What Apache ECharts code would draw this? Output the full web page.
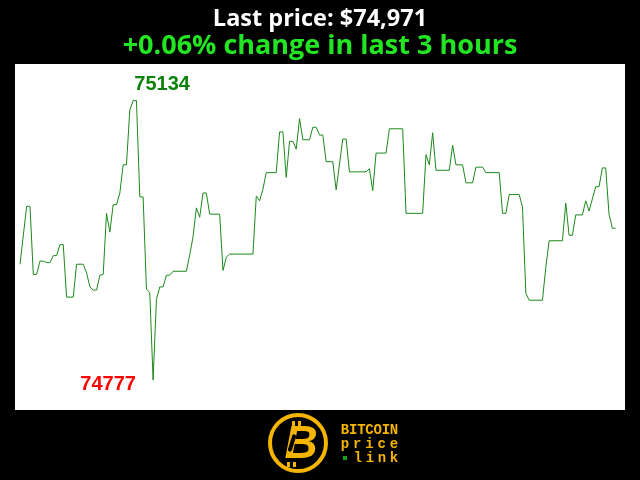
<!DOCTYPE html>
<html><head><meta charset="utf-8">
<script src="https://cdn.jsdelivr.net/npm/echarts@6/dist/echarts.min.js"></script>
<style>html,body{margin:0;padding:0;background:#000}#c{width:640px;height:480px}</style>
</head><body><div id="c"></div>
<script>
// minute offset within the last 3 hours (breakpoints of the line)
const minutes = [0,2,3,4,5,6,7,8,9,10,11,12,13,14,16,17,19,20,21,22,23,24,25,26,27,28,29,30,31,32,33,34,35,36,37,38,39,40,41,42,43,44,45,46,50,51,52,53,54,55,56,57,60,61,62,63,70,71,72,73,74,77,78,79,80,81,82,83,84,85,87,88,89,90,91,92,94,95,97,98,99,104,105,106,107,110,111,115,116,121,122,123,124,125,129,130,131,133,134,136,137,139,140,144,145,146,147,150,151,152,153,157,158,159,163,164,165,166,167,169,170,171,173,174,175,176,177,178,179];
const prices = [74925,74999,74999,74912,74912,74929,74929,74927,74927,74936,74936,74950,74950,74883,74883,74925,74925,74914,74896,74892,74892,74911,74912,74990,74966,75001,75001,75016,75052,75052,75122,75134,75134,75011,75011,74893,74889,74777,74880,74896,74896,74911,74911,74916,74916,74937,74960,74997,74985,75016,75016,74989,74989,74917,74934,74938,74938,75012,75006,75021,75042,75042,75094,75094,75036,75082,75082,75072,75111,75084,75084,75100,75100,75090,75090,75056,75056,75020,75085,75085,75043,75043,75047,75019,75067,75067,75098,75098,74990,74990,75065,75052,75093,75045,75045,75077,75052,75052,75029,75029,75049,75049,75042,75042,74990,74990,75014,75014,74998,74888,74879,74879,74921,74955,74955,75003,74962,74962,74988,74988,75006,74993,75024,75024,75048,75048,74989,74971,74971];
const titleText = 'Last price: $74,971';
const subText = '+0.06% change in last 3 hours';
const logoLines = ['BITCOIN', 'price', 'link'];

const series = minutes.map((m, i) => [m, prices[i]]);
const hi = Math.max(...prices), lo = Math.min(...prices), rng = hi - lo;
const gold = '#f4b400';

function spacedText(str, x0, x1, y, size) {
  const n = str.length;
  const step = n > 1 ? (x1 - x0) / (n - 1) : 0;
  return str.split('').map((ch, i) => ({
    type: 'text', x: x0 + i * step, y: y,
    style: { text: ch, fill: gold, font: 'bold ' + size + 'px "Liberation Mono", "DejaVu Sans Mono", monospace', textAlign: 'center', textVerticalAlign: 'middle' }
  }));
}

const chart = echarts.init(document.getElementById('c'), null, { renderer: 'canvas' });
chart.setOption({
  backgroundColor: '#000',
  animation: false,
  title: [
    { text: titleText, left: 'center', top: 2, textStyle: { color: '#ffffff', fontSize: 23.5, fontWeight: 'bold', fontFamily: '"Open Sans", sans-serif' } },
    { text: subText, left: 'center', top: 28, textStyle: { color: '#22e622', fontSize: 27, fontWeight: 'bold', fontFamily: '"Open Sans", sans-serif' } }
  ],
  grid: { left: 15, right: 15, top: 64, bottom: 70, show: true, backgroundColor: '#ffffff', borderWidth: 0 },
  xAxis: { type: 'value', min: -1.5, max: 181.8, show: false },
  yAxis: { type: 'value', min: lo - rng * 0.107, max: hi + rng * 0.131, show: false },
  series: [{
    type: 'line', data: series, showSymbol: false, symbol: 'none',
    lineStyle: { color: '#1a8a1a', width: 1 },
    markPoint: {
      symbol: 'circle', symbolSize: 0,
      data: [
        { type: 'max', label: { show: true, position: 'inside', offset: [29, -16], color: '#0a820a', fontSize: 20, fontWeight: 'bold', fontFamily: '"Liberation Sans", Arial, sans-serif', formatter: p => String(p.value) } },
        { type: 'min', label: { show: true, position: 'inside', offset: [-45, 4], color: '#ff0000', fontSize: 20, fontWeight: 'bold', fontFamily: '"Liberation Sans", Arial, sans-serif', formatter: p => String(p.value) } }
      ]
    }
  }],
  graphic: [
    { type: 'circle', shape: { cx: 298, cy: 443, r: 28 }, style: { fill: '#000', stroke: gold, lineWidth: 4 } },
    { type: 'text', x: 301, y: 445, style: { text: 'B', fill: gold, font: 'italic bold 46px "Liberation Sans", Arial, sans-serif', textAlign: 'center', textVerticalAlign: 'middle' } },
    { type: 'rect', shape: { x: 292, y: 421, width: 3, height: 6 }, style: { fill: gold } },
    { type: 'rect', shape: { x: 298, y: 421, width: 3, height: 6 }, style: { fill: gold } },
    { type: 'rect', shape: { x: 287, y: 462, width: 3, height: 5 }, style: { fill: gold } },
    { type: 'rect', shape: { x: 293, y: 462, width: 3, height: 5 }, style: { fill: gold } },
    { type: 'rect', shape: { x: 290, y: 434, width: 4, height: 18, r: 2 }, rotation: -0.3, originX: 292, originY: 443, style: { fill: '#000' } },
    ...spacedText(logoLines[0], 345, 394, 430, 14),
    ...spacedText(logoLines[1], 345, 394, 444, 14),
    ...spacedText(logoLines[2], 358, 394, 458, 14),
    { type: 'rect', shape: { x: 343, y: 456, width: 4, height: 4 }, style: { fill: '#1a9e1a' } }
  ]
});
</script>
</body></html>
